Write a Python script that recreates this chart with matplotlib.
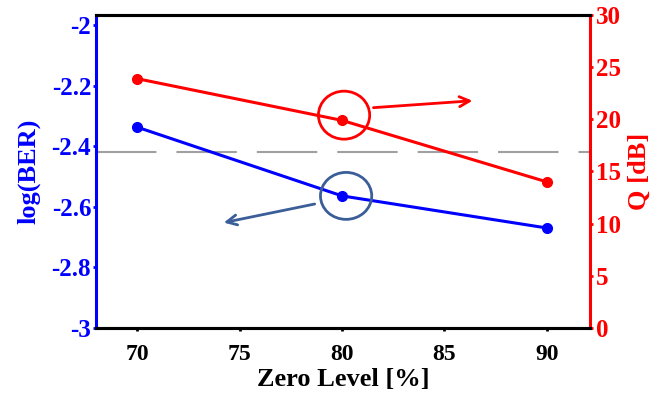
import matplotlib
matplotlib.use('Agg')
import matplotlib.pyplot as plt
from matplotlib.patches import Ellipse

# data
zero_level = [70, 80, 90]
log_ber = [-2.337, -2.564, -2.67]
q_db = [23.9, 19.9, 14.0]
fec_limit = -2.42   # log10(3.8e-3)

x_ticks = [70, 75, 80, 85, 90]
ber_ticks = [-3, -2.8, -2.6, -2.4, -2.2, -2]
ber_ticklabels = ['-3', '-2.8', '-2.6', '-2.4', '-2.2', '-2']
q_ticks = [0, 5, 10, 15, 20, 25, 30]

plt.rcParams['font.family'] = ['Liberation Serif', 'DejaVu Serif']
plt.rcParams['font.weight'] = 'bold'

blue = '#0000FF'
red = '#FF0000'
steel = '#3B5E98'

fig = plt.figure(figsize=(6.55, 3.98), dpi=100)
ax = fig.add_axes([0.1466, 0.1759, 0.7542, 0.7864])
ax2 = ax.twinx()

ax.axhline(fec_limit, color='#A0A0A0', lw=1.5, dashes=(29, 9.6), zorder=1)
ax.plot(zero_level, log_ber, color=blue, lw=2.2, marker='o', ms=7, zorder=3)
ax2.plot(zero_level, q_db, color=red, lw=2.2, marker='o', ms=7, zorder=3)

ax.set_xlim(68, 92.1)
ax.set_ylim(-3, -1.967)
ax2.set_ylim(0, 30)

ax.set_xticks(x_ticks)
ax.set_yticks(ber_ticks)
ax.set_yticklabels(ber_ticklabels)
ax2.set_yticks(q_ticks)

ax.tick_params(axis='x', direction='out', length=2.5, width=2, colors='black',
               labelsize=17, pad=9)
ax.tick_params(axis='y', direction='out', length=2.5, width=2, colors=blue,
               labelsize=18, pad=1)
ax2.tick_params(axis='y', direction='out', length=2.5, width=2, colors=red,
                labelsize=18, pad=2)

for a in (ax, ax2):
    a.spines['top'].set_linewidth(2.2)
    a.spines['bottom'].set_linewidth(2.2)
    a.spines['top'].set_color('black')
    a.spines['bottom'].set_color('black')
ax.spines['left'].set_color(blue)
ax.spines['left'].set_linewidth(2.2)
ax.spines['right'].set_visible(False)
ax2.spines['left'].set_visible(False)
ax2.spines['right'].set_color(red)
ax2.spines['right'].set_linewidth(2.2)

ax.set_xlabel('Zero Level [%]', fontsize=19, fontweight='bold', labelpad=2)
ax.set_ylabel('log(BER)', fontsize=19, fontweight='bold', color=blue, labelpad=8)
ax2.set_ylabel('Q [dB]', fontsize=19, fontweight='bold', color=red, labelpad=5)

# circles around the 80 % points and arrows pointing to each axis
ax.add_patch(Ellipse((zero_level[1] + 0.2, log_ber[1]), 2.5, 0.155, fill=False,
                     ec=steel, lw=2, zorder=4))
ax.annotate('', xy=(74.1, log_ber[1] - 0.09), xytext=(78.8, log_ber[1] - 0.025),
            arrowprops=dict(arrowstyle='->', color=steel, lw=2,
                            mutation_scale=18), zorder=4)
ax2.add_patch(Ellipse((zero_level[1] + 0.1, q_db[1] + 0.5), 2.5, 4.6, fill=False,
                      ec=red, lw=2, zorder=4))
ax2.annotate('', xy=(86.5, q_db[1] + 1.9), xytext=(81.4, q_db[1] + 1.2),
             arrowprops=dict(arrowstyle='->', color=red, lw=2,
                             mutation_scale=18), zorder=4)

fig.savefig('out.png', dpi=100)
